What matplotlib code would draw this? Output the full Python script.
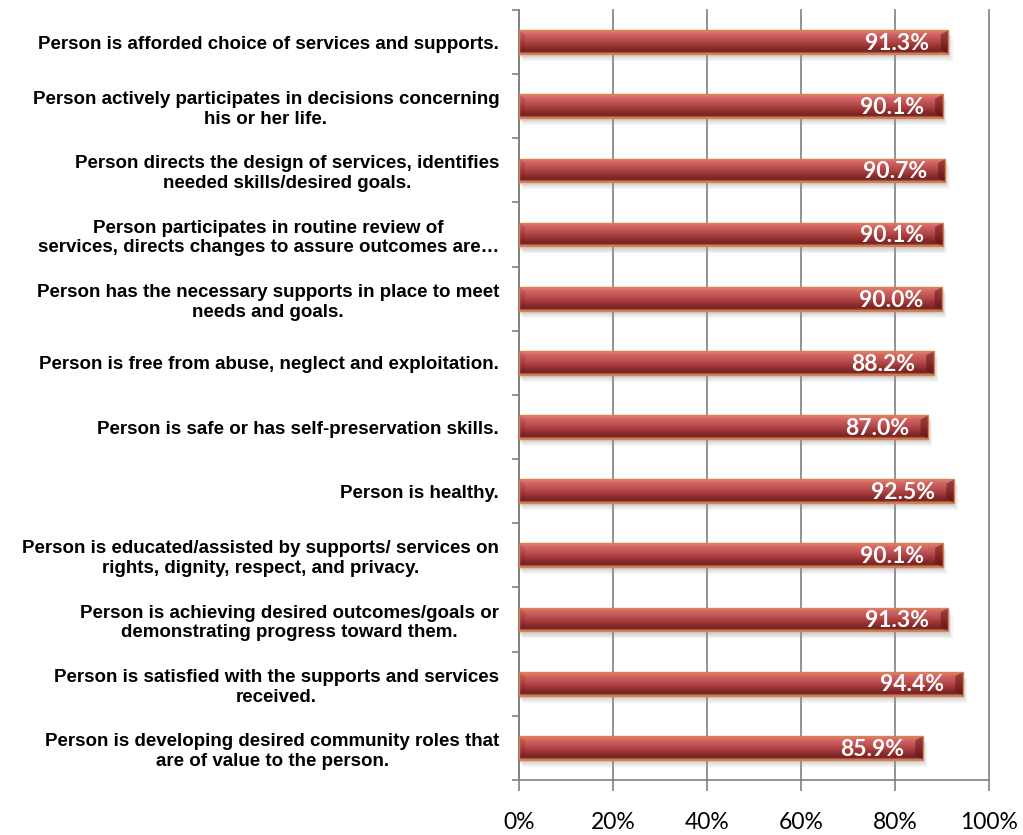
import numpy as np
import matplotlib.pyplot as plt
from matplotlib.patches import Rectangle, Polygon

categories = [
    "Person is afforded choice of services and supports.",
    "Person actively participates in decisions concerning\nhis or her life.",
    "Person directs the design of services, identifies\nneeded skills/desired goals.",
    "Person participates in routine review of\nservices, directs changes to assure outcomes are\u2026",
    "Person has the necessary supports in place to meet\nneeds and goals.",
    "Person is free from abuse, neglect and exploitation.",
    "Person is safe or has self-preservation skills.",
    "Person is healthy.",
    "Person is educated/assisted by supports/ services on\nrights, dignity, respect, and privacy.",
    "Person is achieving desired outcomes/goals or\ndemonstrating progress toward them.",
    "Person is satisfied with the supports and services\nreceived.",
    "Person is developing desired community roles that\nare of value to the person.",
]
values = [91.3, 90.1, 90.7, 90.1, 90.0, 88.2, 87.0, 92.5, 90.1, 91.3, 94.4, 85.9]
xticks = [0, 20, 40, 60, 80, 100]

fig = plt.figure(figsize=(10.23, 8.35), dpi=100)
ax = fig.add_axes([0.507, 0.066, 0.460, 0.922])

n = len(categories)
ypos = np.arange(n)
bar_h = 0.37

# vertical gradient: orange rim, light red top, dark red lower half, orange rim
grad_cols = np.array([
    [0.90, 0.55, 0.36],
    [0.84, 0.42, 0.42],
    [0.74, 0.31, 0.31],
    [0.58, 0.19, 0.19],
    [0.45, 0.13, 0.13],
    [0.86, 0.56, 0.40],
])
k = np.array([0.0, 0.12, 0.40, 0.70, 0.90, 1.0])
t = np.linspace(0, 1, 64)
grad = np.stack([np.interp(t, k, grad_cols[:, c]) for c in range(3)], axis=1)
grad_img = grad[:, None, :]

for y, v in zip(ypos, values):
    top, bot = y - bar_h / 2, y + bar_h / 2
    # soft shadow under the bar
    for i, a in enumerate([0.18, 0.14, 0.10]):
        ax.add_patch(Rectangle((0.3 + 0.3 * i, top + 0.05 + 0.03 * i), v, bar_h,
                               facecolor='#909090', edgecolor='none', alpha=a, zorder=2))
    rect = Rectangle((0, top), v, bar_h, facecolor='none',
                     edgecolor='#d9804c', linewidth=1.0, zorder=4)
    ax.add_patch(rect)
    im = ax.imshow(grad_img, extent=(0, v, bot, top),
                   aspect='auto', zorder=3, interpolation='bilinear')
    im.set_clip_path(rect)
    # bevelled end caps
    ax.add_patch(Polygon([(v - 1.6, top + 0.07), (v, top), (v, bot), (v - 1.6, bot - 0.07)],
                         closed=True, facecolor='#5a1212', edgecolor='none',
                         alpha=0.5, zorder=3.5))
    ax.add_patch(Polygon([(0, top), (1.4, top + 0.07), (1.4, bot - 0.07), (0, bot)],
                         closed=True, facecolor='#6a1a1a', edgecolor='none',
                         alpha=0.18, zorder=3.5))
    ax.text(v - 4.0, y + 0.02, f"{v:.1f}%", ha='right', va='center', color='white',
            fontsize=16.5, fontweight='bold', family='Lato', zorder=5)

ax.set_xlim(0, 100)
ax.set_ylim(n - 0.5, -0.5)

ax.set_xticks(xticks)
ax.set_xticklabels([f"{x}%" for x in xticks], family='Lato', fontsize=16.5)
ax.tick_params(axis='x', length=8, color='#808080', width=1.2, pad=15)
ax.grid(axis='x', color='#808080', linewidth=1.2, zorder=0)
for gl in ax.get_xgridlines():
    gl.set_clip_on(False)
ax.set_axisbelow(True)

ax.set_yticks(ypos)
ax.set_yticklabels(categories, family='Liberation Sans', fontsize=13.5, fontweight='bold')
for lbl in ax.get_yticklabels():
    lbl.set_multialignment('center')
    lbl.set_linespacing(1.22)
ax.tick_params(axis='y', which='major', length=0, pad=14)
ax.set_yticks(np.arange(-0.5, n, 1), minor=True)
ax.tick_params(axis='y', which='minor', length=5, color='#808080', width=1.2)

for side in ['top', 'right']:
    ax.spines[side].set_visible(False)
ax.spines['left'].set_color('#808080')
ax.spines['bottom'].set_color('#808080')
ax.spines['left'].set_linewidth(1.2)
ax.spines['bottom'].set_linewidth(1.2)

fig.savefig('out.png', dpi=100)
